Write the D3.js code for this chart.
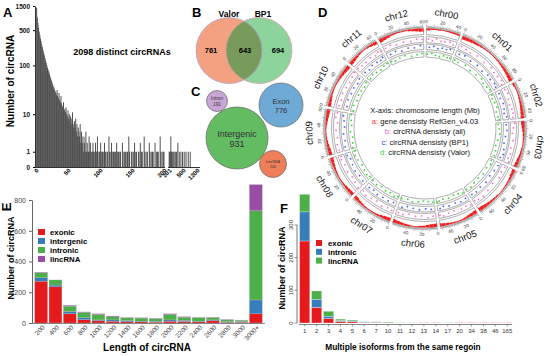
<!DOCTYPE html>
<html>
<head>
<meta charset="utf-8">
<script src="https://cdn.jsdelivr.net/npm/d3@7"></script>
<style>
  body { margin: 0; background: #fff; }
  svg { display: block; font-family: "Liberation Sans", Arial, sans-serif; }
</style>
</head>
<body>
<svg id="fig" width="550" height="356"></svg>
<script>
// ---------- data ----------
// A: number of circRNAs per count bin (1..200), then the sparse tail past the axis break
const histCounts = [
  1400, 900, 700, 560, 470, 400, 340, 300, 260, 230,
  200, 180, 160, 140, 125, 112, 100, 90, 82, 75,
  68, 60, 55, 50, 46, 42, 38, 36, 33, 30,
  28, 26, 32, 24, 22, 28, 20, 18, 24, 17,
  15, 14, 18, 12, 13, 11, 14, 10, 9, 12,
  8, 10, 7, 9, 6, 8, 11, 6, 5, 7,
  5, 8, 4, 6, 3, 5, 4, 3, 6, 2,
  4, 3, 2, 1, 3, 2, 1, 4, 1, 2,
  1, 1, 3, 1, 2, 0, 1, 1, 2, 1,
  1, 0, 2, 1, 1, 3, 1, 0, 1, 1,
  2, 1, 0, 1, 1, 0, 2, 1, 1, 0,
  1, 1, 0, 3, 1, 0, 1, 2, 0, 1,
  1, 0, 1, 1, 0, 2, 1, 0, 1, 0,
  1, 1, 0, 0, 2, 1, 0, 1, 0, 1,
  0, 1, 1, 0, 3, 1, 0, 0, 1, 1,
  0, 1, 0, 2, 1, 0, 1, 0, 0, 1,
  1, 0, 2, 0, 1, 1, 0, 0, 3, 1,
  0, 1, 0, 1, 0, 0, 2, 1, 0, 1,
  0, 1, 1, 0, 0, 2, 0, 1, 0, 1,
  1, 0, 0, 3, 1, 0, 1, 0, 1, 1
];
const tailLengths = [205, 215, 228, 240, 255, 270, 290, 310, 335, 360, 390, 420, 455, 490, 560, 650, 760, 860];
const tailCounts  = [1, 1, 1, 3, 1, 1, 1, 1, 1, 1, 2, 1, 1, 1, 1, 1, 1, 1];
const histTicksA = [0, 1, 10, 100, 500, 1500];
const lenTicksA = [0, 50, 100, 150, 200, 201, 500, 1200];

// B: Venn
const vennNames = ["Valor", "BP1"];
const vennCounts = [761, 643, 694];

// C: bubbles
const bubbleNames = ["Intron", "Exon", "Intergenic", "LincRNA"];
const bubbleCounts = [191, 776, 931, 200];

// D: circos (potato DM v4.03 chromosome lengths, Mb)
const chrNames = ["chr00","chr01","chr02","chr03","chr04","chr05","chr06","chr07","chr08","chr09","chr10","chr11","chr12"];
const chrLengths = [45.1, 88.7, 48.6, 62.3, 72.2, 52.1, 59.5, 56.8, 56.9, 61.5, 59.8, 45.5, 61.2];
// gene density, 5 Mb bins
const geneDensity = [
  [0.5,0.3,0.25,0.3,0.2,0.25,0.3,0.35,0.4,0.6],
  [0.9,0.8,0.7,0.6,0.5,0.4,0.3,0.25,0.2,0.2,0.25,0.3,0.4,0.5,0.6,0.7,0.85,0.95],
  [0.5,0.3,0.25,0.3,0.4,0.5,0.6,0.7,0.8,0.9],
  [0.9,0.8,0.6,0.4,0.3,0.25,0.2,0.3,0.4,0.5,0.7,0.8,0.9],
  [0.8,0.7,0.5,0.35,0.3,0.25,0.2,0.2,0.3,0.4,0.5,0.65,0.8,0.9,0.95],
  [0.9,0.8,0.6,0.4,0.3,0.25,0.3,0.4,0.55,0.7,0.85],
  [0.9,0.85,0.7,0.5,0.4,0.3,0.3,0.35,0.5,0.6,0.75,0.9],
  [0.9,0.8,0.6,0.4,0.3,0.25,0.25,0.3,0.45,0.6,0.8,0.9],
  [0.85,0.75,0.6,0.4,0.3,0.25,0.3,0.4,0.5,0.65,0.8,0.9],
  [0.9,0.8,0.6,0.45,0.3,0.25,0.2,0.3,0.45,0.6,0.75,0.85,0.95],
  [0.8,0.7,0.5,0.35,0.3,0.25,0.3,0.4,0.55,0.7,0.85,0.95],
  [0.9,0.75,0.55,0.4,0.3,0.3,0.4,0.6,0.8,0.95],
  [0.95,0.8,0.6,0.4,0.3,0.25,0.25,0.3,0.4,0.55,0.7,0.85,0.95]
];
// circRNA density dots [Mb, relative value]
const densAll = [
  [[3,0.6],[9,0.3],[15,0.8],[22,0.4],[28,0.5],[35,0.7],[41,0.3]],
  [[4,0.7],[12,0.5],[20,0.3],[31,0.6],[45,0.4],[58,0.8],[66,0.5],[74,0.6],[82,0.9],[87,0.4]],
  [[3,0.5],[10,0.8],[18,0.4],[27,0.3],[34,0.6],[40,0.7],[46,0.5]],
  [[2,0.8],[9,0.5],[17,0.3],[28,0.6],[39,0.4],[48,0.7],[55,0.5],[60,0.9]],
  [[3,0.6],[11,0.4],[20,0.7],[33,0.3],[45,0.5],[56,0.8],[64,0.6],[70,0.4]],
  [[2,0.7],[9,0.4],[17,0.6],[28,0.3],[37,0.5],[45,0.8],[50,0.5]],
  [[4,0.5],[12,0.8],[21,0.4],[30,0.6],[40,0.3],[49,0.7],[56,0.6]],
  [[3,0.6],[10,0.4],[19,0.7],[29,0.3],[38,0.5],[47,0.8],[54,0.4]],
  [[2,0.8],[11,0.5],[20,0.3],[30,0.6],[41,0.4],[50,0.7],[55,0.5]],
  [[3,0.5],[12,0.7],[22,0.4],[33,0.6],[44,0.3],[52,0.8],[59,0.6]],
  [[4,0.6],[13,0.4],[23,0.7],[33,0.5],[42,0.3],[51,0.6],[58,0.8]],
  [[2,0.7],[9,0.5],[17,0.4],[26,0.6],[34,0.3],[40,0.7],[44,0.5]],
  [[3,0.6],[11,0.8],[20,0.4],[31,0.5],[42,0.3],[51,0.7],[59,0.5]]
];
const densBP1 = [
  [[5,0.4],[12,0.7],[19,0.3],[26,0.6],[33,0.5],[39,0.8]],
  [[6,0.5],[15,0.8],[27,0.4],[40,0.6],[52,0.3],[63,0.7],[71,0.5],[80,0.8],[86,0.6]],
  [[5,0.6],[13,0.4],[22,0.7],[31,0.5],[38,0.3],[44,0.8]],
  [[4,0.5],[13,0.7],[23,0.4],[34,0.3],[44,0.6],[52,0.8],[58,0.4]],
  [[5,0.7],[15,0.5],[26,0.3],[38,0.6],[50,0.4],[60,0.7],[68,0.5]],
  [[4,0.5],[13,0.7],[22,0.4],[33,0.6],[42,0.3],[48,0.7]],
  [[6,0.6],[15,0.4],[25,0.7],[35,0.5],[45,0.3],[53,0.8]],
  [[5,0.4],[14,0.6],[24,0.5],[34,0.7],[43,0.3],[51,0.6]],
  [[5,0.6],[15,0.4],[25,0.7],[36,0.5],[46,0.3],[53,0.8]],
  [[6,0.7],[16,0.4],[27,0.6],[38,0.3],[48,0.5],[56,0.8]],
  [[6,0.4],[17,0.7],[28,0.5],[38,0.6],[47,0.3],[55,0.7]],
  [[5,0.6],[13,0.3],[21,0.7],[30,0.5],[37,0.4],[42,0.8]],
  [[6,0.5],[15,0.7],[25,0.3],[36,0.6],[46,0.4],[56,0.8]]
];
const densValor = [
  [[2,0.5],[10,0.8],[17,0.4],[24,0.3],[31,0.7],[38,0.5],[43,0.6]],
  [[3,0.6],[10,0.4],[24,0.7],[36,0.3],[49,0.5],[61,0.8],[69,0.4],[78,0.6],[85,0.9]],
  [[2,0.7],[8,0.4],[16,0.6],[25,0.8],[33,0.3],[42,0.5],[47,0.7]],
  [[3,0.4],[11,0.6],[20,0.8],[31,0.5],[41,0.3],[50,0.6],[59,0.7]],
  [[2,0.5],[9,0.8],[18,0.4],[30,0.6],[42,0.3],[53,0.5],[62,0.8],[71,0.6]],
  [[3,0.8],[11,0.5],[20,0.3],[30,0.6],[40,0.4],[47,0.7],[51,0.9]],
  [[2,0.7],[10,0.5],[19,0.3],[28,0.6],[38,0.8],[47,0.4],[58,0.6]],
  [[2,0.5],[8,0.8],[17,0.4],[26,0.6],[36,0.3],[45,0.7],[55,0.5]],
  [[3,0.4],[9,0.7],[18,0.5],[28,0.3],[39,0.6],[48,0.8],[56,0.5]],
  [[2,0.8],[10,0.5],[20,0.3],[30,0.7],[41,0.4],[50,0.6],[60,0.8]],
  [[2,0.5],[11,0.8],[21,0.4],[31,0.6],[40,0.5],[49,0.3],[57,0.7]],
  [[3,0.4],[11,0.7],[19,0.5],[28,0.3],[36,0.6],[43,0.8]],
  [[2,0.7],[9,0.4],[18,0.6],[28,0.8],[39,0.3],[49,0.5],[58,0.7]]
];

// E: length of circRNA, stacked
const lenCats = ["200","400","600","800","1000","1200","1400","1600","1800","2000","2200","2400","2600","2800","3000","3000+"];
const exonicE     = [272, 235, 60, 22, 15, 12, 8, 8, 6, 12, 10, 8, 15, 5, 5, 60];
const intergenicE = [22, 12, 15, 12, 5, 8, 7, 4, 6, 8, 8, 4, 5, 3, 3, 90];
const intronicE   = [33, 33, 35, 35, 35, 20, 18, 20, 17, 35, 20, 22, 15, 12, 10, 580];
const lincE       = [3, 0, 5, 3, 5, 5, 2, 2, 2, 5, 3, 2, 2, 2, 1, 170];
const ticksE = [0, 200, 400, 600, 800];

// F: multiple isoforms from the same region
const isoCats = ["1","2","3","4","5","6","7","10","11","12","13","14","17","20","34","38","46","165"];
const exonicF   = [251, 48, 14, 5, 4, 2, 2, 1, 0, 0, 1, 1, 0, 1, 1, 1, 1, 1];
const intronicF = [89, 25, 7, 3, 2, 1, 1, 0, 0, 0, 0, 0, 0, 0, 0, 0, 0, 0];
const lincF     = [54, 25, 15, 4, 3, 1, 1, 2, 1, 1, 0, 0, 1, 0, 0, 0, 0, 0];
const ticksF = [0, 100, 200, 300];

// ---------- drawing ----------
const svg = d3.select("#fig");

function panelLetter(t, x, y, rot) {
  const el = svg.append("text").attr("font-weight", "bold").attr("font-size", 13).text(t);
  if (rot) el.attr("transform", `translate(${x},${y}) rotate(-90)`).attr("text-anchor", "middle");
  else el.attr("x", x).attr("y", y);
}

// ===== A =====
const xA = d3.scaleLinear().domain([0, 200, 201, 500, 1200]).range([36, 164, 169, 183, 197]);
const yA = d3.scaleSymlog().constant(1).domain([0, 1500]).range([167, 6]);
const gA = svg.append("g");

gA.selectAll("rect.h").data(histCounts).join("rect")
  .attr("class", "h")
  .attr("x", (d, i) => xA(i + 1) - 0.5)
  .attr("width", 1)
  .attr("y", d => yA(d))
  .attr("height", d => yA(0) - yA(d))
  .attr("fill", "#505050");

gA.selectAll("rect.t").data(tailLengths).join("rect")
  .attr("class", "t")
  .attr("x", d => xA(d) - 0.5)
  .attr("width", 1)
  .attr("y", (d, i) => yA(tailCounts[i]))
  .attr("height", (d, i) => yA(0) - yA(tailCounts[i]))
  .attr("fill", "#505050");

const axA = gA.append("g").attr("transform", "translate(35,0)")
  .call(d3.axisLeft(yA).tickValues(histTicksA).tickFormat(d3.format("d")).tickSize(2).tickSizeOuter(0));
axA.selectAll("text").attr("font-size", 6.5).attr("font-weight", "bold").attr("font-family", "Liberation Sans, Arial").attr("fill", "#111");
axA.select(".domain").attr("stroke", "#333");

gA.append("line").attr("x1", 35).attr("x2", xA(200) + 1).attr("y1", 167.5).attr("y2", 167.5).attr("stroke", "#333");
gA.append("line").attr("x1", xA(201) - 1).attr("x2", 200).attr("y1", 167.5).attr("y2", 167.5).attr("stroke", "#333");

gA.selectAll("text.xl").data(lenTicksA).join("text")
  .attr("class", "xl")
  .attr("transform", d => `translate(${xA(d) + 3},${171}) rotate(-45)`)
  .attr("text-anchor", "end").attr("font-size", 6).attr("font-weight", "bold")
  .text(d => d);

gA.append("text").attr("transform", "translate(14,81) rotate(-90)")
  .attr("text-anchor", "middle").attr("font-size", 10).attr("font-weight", "bold").text("Number of circRNA");
gA.append("text").attr("x", 122).attr("y", 55).attr("text-anchor", "middle")
  .attr("font-size", 9).attr("font-weight", "bold").text("2098 distinct circRNAs");
panelLetter("A", 3, 17);

// ===== B =====
const gB = svg.append("g");
const vennX = d3.scalePoint().domain(vennNames).range([229, 259]);
const vr = 33, vcy = 50.5;
gB.append("defs").append("clipPath").attr("id", "clipValor")
  .append("circle").attr("cx", vennX("Valor")).attr("cy", vcy).attr("r", vr);
gB.append("circle").attr("cx", vennX("Valor")).attr("cy", vcy).attr("r", vr).attr("fill", "#f4a182");
gB.append("circle").attr("cx", vennX("BP1")).attr("cy", vcy).attr("r", vr).attr("fill", "#8dd39c");
gB.append("circle").attr("cx", vennX("BP1")).attr("cy", vcy).attr("r", vr).attr("fill", "#789b5b")
  .attr("clip-path", "url(#clipValor)");
gB.append("circle").attr("cx", vennX("Valor")).attr("cy", vcy).attr("r", vr).attr("fill", "none").attr("stroke", "#a99bd0").attr("stroke-width", 0.7);
gB.append("circle").attr("cx", vennX("BP1")).attr("cy", vcy).attr("r", vr).attr("fill", "none").attr("stroke", "#d59aa0").attr("stroke-width", 0.7);
gB.selectAll("text.vn").data(vennNames).join("text").attr("class", "vn")
  .attr("x", d => vennX(d) + (d === "BP1" ? 4 : 0)).attr("y", 17).attr("text-anchor", "middle")
  .attr("font-size", 8.5).attr("font-weight", "bold").text(d => d);
const vennNumX = [211, 245, 278];
gB.selectAll("text.vc").data(vennCounts).join("text").attr("class", "vc")
  .attr("x", (d, i) => vennNumX[i]).attr("y", 53).attr("text-anchor", "middle")
  .attr("font-size", 7.5).attr("font-weight", "bold").text(d => d);
panelLetter("B", 192, 17);

// ===== C =====
const gC = svg.append("g");
const bubblePos = [[217, 101], [281, 105], [237, 138], [273, 164]];
const bubbleFill = ["#c9a6d6", "#6fa9d6", "#63bb62", "#ee7f5a"];
const bubbleFont = [4.8, 7.5, 9, 3.6];
const bubbleR = [10.5, 22, 31, 13.5];
gC.selectAll("circle").data(bubbleCounts).join("circle")
  .attr("cx", (d, i) => bubblePos[i][0]).attr("cy", (d, i) => bubblePos[i][1])
  .attr("r", (d, i) => bubbleR[i])
  .attr("fill", (d, i) => bubbleFill[i]).attr("stroke", "#666").attr("stroke-width", 0.7);
bubbleNames.forEach((n, i) => {
  const f = bubbleFont[i];
  gC.append("text").attr("x", bubblePos[i][0]).attr("y", bubblePos[i][1] - f * 0.15)
    .attr("text-anchor", "middle").attr("font-size", f).attr("fill", "#333").text(n);
  gC.append("text").attr("x", bubblePos[i][0]).attr("y", bubblePos[i][1] + f * 1.05)
    .attr("text-anchor", "middle").attr("font-size", f).attr("fill", "#333").text(bubbleCounts[i]);
});
panelLetter("C", 191, 96);

// ===== D =====
const gD = svg.append("g");
const cx = 425, cy = 128;
const gapA = 1.8 * Math.PI / 180;
const kA = (2 * Math.PI - chrLengths.length * gapA) / d3.sum(chrLengths);
let acc = gapA / 2;
const chrs = chrNames.map((n, i) => {
  const s = acc, e = s + chrLengths[i] * kA;
  acc = e + gapA;
  return { name: n, len: chrLengths[i], i, ang: d3.scaleLinear().domain([0, chrLengths[i]]).range([s, e]) };
});
const tracks = { a: [93.5, 100], b: [85.5, 91.5], c: [78.5, 84], d: [71, 76.5] };
const toDeg = a => a * 180 / Math.PI;
function tangentRot(a) {
  const deg = toDeg(a);
  return (deg > 110 && deg < 260) ? deg - 180 : deg;
}
const gD0 = gD.append("g").attr("transform", `translate(${cx},${cy})`);

chrs.forEach(c => {
  const [a0, a1] = c.ang.range();
  // track frames
  Object.values(tracks).forEach(([ri, ro]) => {
    gD0.append("path")
      .attr("d", d3.arc().innerRadius(ri).outerRadius(ro).startAngle(a0).endAngle(a1)())
      .attr("fill", "#fff").attr("stroke", "#8c8c8c").attr("stroke-width", 0.7);
  });
  // gene density bars, hanging from outer edge of track a
  const bins = geneDensity[c.i];
  bins.forEach((v, j) => {
    const s = c.ang(j * 5), e = c.ang(Math.min((j + 1) * 5, c.len));
    const [ri, ro] = tracks.a;
    gD0.append("path")
      .attr("d", d3.arc().innerRadius(ro - 0.5 - v * (ro - ri) * 0.55).outerRadius(ro - 0.4).startAngle(s).endAngle(e)())
      .attr("fill", "#f21d1d");
  });
  // density dots
  [[densAll, tracks.b, "#ff6fd2"], [densBP1, tracks.c, "#4b5ff5"], [densValor, tracks.d, "#33d633"]].forEach(([arr, [ri, ro], col]) => {
    arr[c.i].forEach(([pos, v]) => {
      const a = c.ang(pos), r = ri + 0.8 + v * (ro - ri - 1.6);
      const [x, y] = [r * Math.sin(a), -r * Math.cos(a)];
      gD0.append("rect").attr("x", x - 0.8).attr("y", y - 0.8).attr("width", 1.6).attr("height", 1.6)
        .attr("fill", col).attr("transform", `rotate(${toDeg(a)},${x},${y})`);
    });
  });
  // axis ring with ticks
  const p = d3.path();
  p.arc(0, 0, 101, a0 - Math.PI / 2, a1 - Math.PI / 2);
  gD0.append("path").attr("d", p.toString()).attr("fill", "none").attr("stroke", "#555").attr("stroke-width", 0.5);
  d3.range(0, c.len + 0.01, 2).forEach(m => {
    const a = c.ang(m), len = m % 10 === 0 ? 2.5 : 1.4;
    gD0.append("line")
      .attr("x1", 101 * Math.sin(a)).attr("y1", -101 * Math.cos(a))
      .attr("x2", (101 + len) * Math.sin(a)).attr("y2", -(101 + len) * Math.cos(a))
      .attr("stroke", "#555").attr("stroke-width", 0.4);
  });
  d3.range(0, c.len, 20).forEach(m => {
    const a = c.ang(m), r = 106.3;
    gD0.append("text")
      .attr("transform", `translate(${r * Math.sin(a)},${-r * Math.cos(a)}) rotate(${tangentRot(a)})`)
      .attr("text-anchor", "middle").attr("dy", "0.35em").attr("font-size", 4.6).attr("fill", "#333").text(m);
  });
  // chromosome name
  const am = c.ang(c.len / 2), rl = 116;
  gD0.append("text")
    .attr("transform", `translate(${rl * Math.sin(am)},${-rl * Math.cos(am)}) rotate(${tangentRot(am)})`)
    .attr("text-anchor", "middle").attr("dy", "0.35em").attr("font-size", 9.5).attr("fill", "#111").text(c.name);
});

const legendD = [
  ["", "X-axis: chromosome length (Mb)", "#111"],
  ["a: ", "gene densisty RefGen_v4.03", "#ff3030"],
  ["b: ", "circRNA densisty (all)", "#ff5fe0"],
  ["c: ", "circRNA densisty (BP1)", "#3a3aff"],
  ["d: ", "circRNA densisty (Valor)", "#35d035"]
];
legendD.forEach(([k, t, col], i) => {
  const tx = gD.append("text").attr("x", cx).attr("y", 113 + i * 10.6).attr("text-anchor", "middle").attr("font-size", 7.6);
  if (k) tx.append("tspan").attr("fill", col).text(k);
  tx.append("tspan").attr("fill", "#111").text(t);
});
panelLetter("D", 318, 17);

// ===== E =====
const gE = svg.append("g");
const partsE = ["exonic", "intergenic", "intronic", "lincRNA"];
const colE = d3.scaleOrdinal().domain(partsE).range(["#e41a1c", "#377eb8", "#4daf4a", "#984ea3"]);
const rowsE = lenCats.map((c, i) => ({ cat: c, exonic: exonicE[i], intergenic: intergenicE[i], intronic: intronicE[i], lincRNA: lincE[i] }));
const xE = d3.scaleBand().domain(lenCats).range([34, 263]).paddingInner(0.1).paddingOuter(0.05);
const yE = d3.scaleLinear().domain([0, 800]).range([323, 200]);
gE.selectAll("g.s").data(d3.stack().keys(partsE)(rowsE)).join("g").attr("class", "s")
  .attr("fill", d => colE(d.key))
  .selectAll("rect").data(d => d).join("rect")
  .attr("x", d => xE(d.data.cat)).attr("width", xE.bandwidth())
  .attr("y", d => yE(d[1])).attr("height", d => yE(d[0]) - yE(d[1]))
  .attr("stroke", "#bbb").attr("stroke-width", 0.3);
const axE = gE.append("g").attr("transform", "translate(32,0)")
  .call(d3.axisLeft(yE).tickValues(ticksE).tickSize(3).tickSizeOuter(0));
axE.selectAll("text").attr("font-size", 7).attr("fill", "#444").attr("font-family", "Liberation Sans, Arial");
axE.selectAll("line, path").attr("stroke", "#666");
gE.append("line").attr("x1", 32).attr("x2", 265).attr("y1", 323.5).attr("y2", 323.5).attr("stroke", "#666").attr("stroke-width", 0.8);
gE.selectAll("text.xl").data(lenCats).join("text").attr("class", "xl")
  .attr("transform", d => `translate(${xE(d) + xE.bandwidth() / 2 + 4},${328}) rotate(-45)`)
  .attr("text-anchor", "end").attr("font-size", 6.5).attr("fill", "#444").text(d => d);
gE.selectAll("rect.lg").data(partsE).join("rect").attr("class", "lg")
  .attr("x", 38).attr("y", (d, i) => 229 + i * 9).attr("width", 7).attr("height", 6).attr("fill", d => colE(d));
gE.selectAll("text.lg").data(partsE).join("text").attr("class", "lg")
  .attr("x", 50).attr("y", (d, i) => 235 + i * 9).attr("font-size", 7.8).attr("font-weight", "bold").text(d => d);
gE.append("text").attr("transform", "translate(14,258) rotate(-90)").attr("text-anchor", "middle")
  .attr("font-size", 9).attr("font-weight", "bold").text("Number of circRNA");
gE.append("text").attr("x", 147).attr("y", 351).attr("text-anchor", "middle")
  .attr("font-size", 10).attr("font-weight", "bold").text("Length of circRNA");
panelLetter("E", 11, 207, true);

// ===== F =====
const gF = svg.append("g");
const partsF = ["exonic", "intronic", "lincRNA"];
const colF = d3.scaleOrdinal().domain(partsF).range(["#e41a1c", "#377eb8", "#4daf4a"]);
const rowsF = isoCats.map((c, i) => ({ cat: c, exonic: exonicF[i], intronic: intronicF[i], lincRNA: lincF[i] }));
const xF = d3.scaleBand().domain(isoCats).range([299, 513]).paddingInner(0.14).paddingOuter(0.05);
const yF = d3.scaleLinear().domain([0, 400]).range([323, 192.3]);
gF.selectAll("g.s").data(d3.stack().keys(partsF)(rowsF)).join("g").attr("class", "s")
  .attr("fill", d => colF(d.key))
  .selectAll("rect").data(d => d).join("rect")
  .attr("x", d => xF(d.data.cat)).attr("width", xF.bandwidth())
  .attr("y", d => yF(d[1])).attr("height", d => yF(d[0]) - yF(d[1]))
  .attr("stroke", "#fff").attr("stroke-width", 0.3);
gF.append("line").attr("x1", 297).attr("x2", 297).attr("y1", yF(300)).attr("y2", yF(0)).attr("stroke", "#555").attr("stroke-width", 0.8);
gF.selectAll("line.tk").data(ticksF).join("line").attr("class", "tk")
  .attr("x1", 294.5).attr("x2", 297).attr("y1", d => yF(d)).attr("y2", d => yF(d)).attr("stroke", "#555").attr("stroke-width", 0.7);
gF.selectAll("text.yl").data(ticksF).join("text").attr("class", "yl")
  .attr("transform", d => `translate(${292.5},${yF(d)}) rotate(-90)`)
  .attr("text-anchor", "middle").attr("font-size", 6).attr("fill", "#333").text(d => d);
gF.append("line").attr("x1", 299).attr("x2", 512).attr("y1", 324.5).attr("y2", 324.5).attr("stroke", "#555").attr("stroke-width", 0.7);
gF.selectAll("line.xt").data(isoCats).join("line").attr("class", "xt")
  .attr("x1", d => xF(d) + xF.bandwidth() / 2).attr("x2", d => xF(d) + xF.bandwidth() / 2)
  .attr("y1", 324.5).attr("y2", 326.5).attr("stroke", "#555").attr("stroke-width", 0.6);
gF.selectAll("text.xl").data(isoCats).join("text").attr("class", "xl")
  .attr("x", d => xF(d) + xF.bandwidth() / 2).attr("y", 333)
  .attr("text-anchor", "middle").attr("font-size", 6).attr("fill", "#333").text(d => d);
gF.selectAll("rect.lg").data(partsF).join("rect").attr("class", "lg")
  .attr("x", 316).attr("y", (d, i) => 240 + i * 8.8).attr("width", 6).attr("height", 6).attr("fill", d => colF(d));
gF.selectAll("text.lg").data(partsF).join("text").attr("class", "lg")
  .attr("x", 328).attr("y", (d, i) => 246 + i * 8.8).attr("font-size", 7.8).attr("font-weight", "bold").text(d => d);
gF.append("text").attr("transform", "translate(285,268) rotate(-90)").attr("text-anchor", "middle")
  .attr("font-size", 9).attr("font-weight", "bold").text("Number of circRNA");
gF.append("text").attr("x", 403).attr("y", 350).attr("text-anchor", "middle")
  .attr("font-size", 8.3).attr("font-weight", "bold").text("Multiple isoforms from the same regoin");
panelLetter("F", 280, 213);
</script>
</body>
</html>
